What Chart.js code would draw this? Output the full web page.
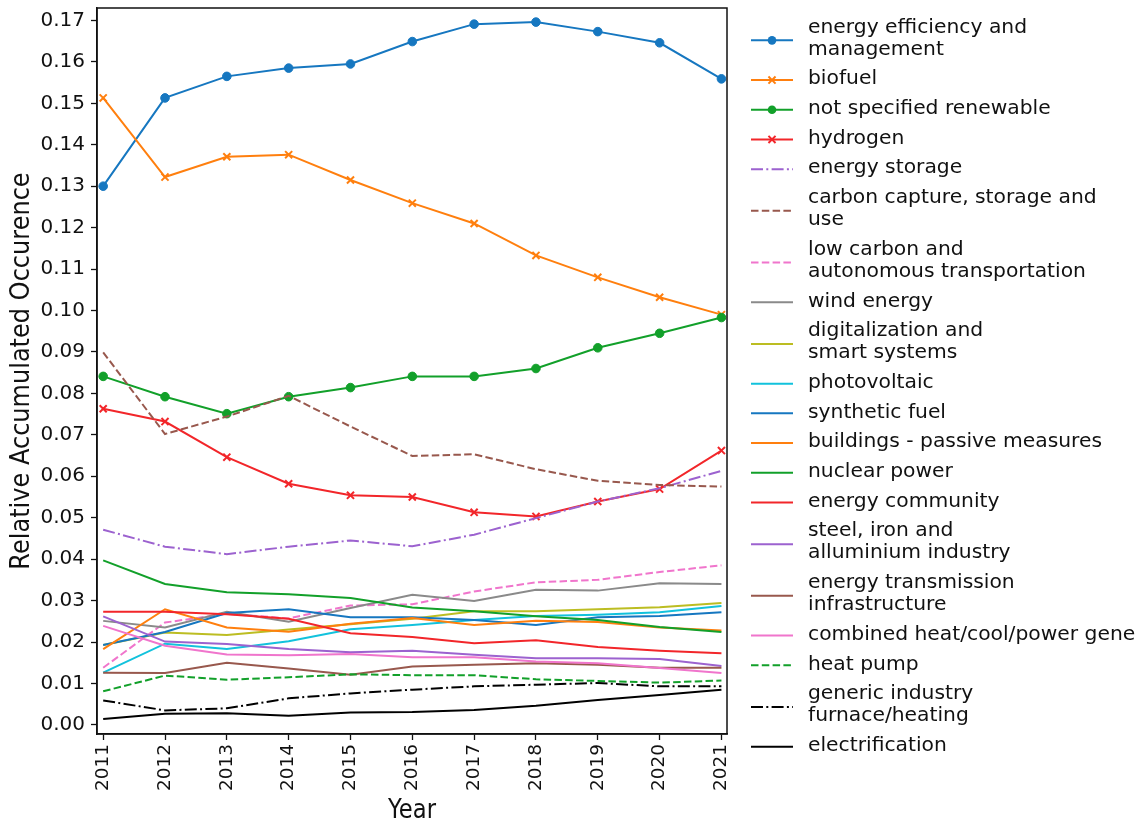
<!DOCTYPE html>
<html>
<head>
<meta charset="utf-8">
<script src="https://cdn.jsdelivr.net/npm/chart.js@4.4.1/dist/chart.umd.min.js"></script>
<style>
  html, body { margin: 0; padding: 0; background: #ffffff; }
  #wrap { width: 1137px; height: 825px; position: relative; overflow: hidden; }
</style>
</head>
<body>
<div id="wrap"><canvas id="chart" width="1137" height="825"></canvas></div>
<script>
// ---- data ----
const years = [2011, 2012, 2013, 2014, 2015, 2016, 2017, 2018, 2019, 2020, 2021];
const yTickValues = [0.00, 0.01, 0.02, 0.03, 0.04, 0.05, 0.06, 0.07, 0.08, 0.09,
                     0.10, 0.11, 0.12, 0.13, 0.14, 0.15, 0.16, 0.17];

const energyEfficiency   = [0.1300, 0.1513, 0.1565, 0.1585, 0.1595, 0.1649, 0.1691, 0.1696, 0.1673, 0.1646, 0.1559];
const biofuel            = [0.1513, 0.1322, 0.1371, 0.1376, 0.1315, 0.1259, 0.1210, 0.1133, 0.1080, 0.1032, 0.0990];
const notSpecifiedRenew  = [0.0841, 0.0792, 0.0751, 0.0792, 0.0814, 0.0841, 0.0841, 0.0860, 0.0910, 0.0945, 0.0983];
const hydrogen           = [0.0763, 0.0732, 0.0646, 0.0582, 0.0554, 0.0550, 0.0513, 0.0503, 0.0539, 0.0569, 0.0662];
const energyStorage      = [0.0471, 0.0430, 0.0412, 0.0430, 0.0445, 0.0431, 0.0459, 0.0499, 0.0539, 0.0571, 0.0613];
const carbonCapture      = [0.0899, 0.0702, 0.0744, 0.0794, 0.0720, 0.0649, 0.0653, 0.0617, 0.0589, 0.0579, 0.0575];
const lowCarbonTransport = [0.0138, 0.0247, 0.0268, 0.0257, 0.0288, 0.0291, 0.0322, 0.0344, 0.0350, 0.0369, 0.0385];
const windEnergy         = [0.0251, 0.0235, 0.0273, 0.0249, 0.0282, 0.0314, 0.0299, 0.0326, 0.0324, 0.0342, 0.0340];
const digitalization     = [0.0193, 0.0223, 0.0217, 0.0230, 0.0243, 0.0256, 0.0274, 0.0274, 0.0279, 0.0284, 0.0294];
const photovoltaic       = [0.0126, 0.0196, 0.0183, 0.0202, 0.0231, 0.0241, 0.0253, 0.0263, 0.0266, 0.0272, 0.0287];
const syntheticFuel      = [0.0193, 0.0224, 0.0270, 0.0279, 0.0260, 0.0260, 0.0253, 0.0241, 0.0260, 0.0263, 0.0272];
const buildingsPassive   = [0.0183, 0.0279, 0.0235, 0.0225, 0.0244, 0.0258, 0.0241, 0.0251, 0.0248, 0.0235, 0.0228];
const nuclearPower       = [0.0397, 0.0340, 0.0320, 0.0315, 0.0306, 0.0283, 0.0274, 0.0262, 0.0253, 0.0236, 0.0224];
const energyCommunity    = [0.0273, 0.0273, 0.0267, 0.0256, 0.0221, 0.0212, 0.0197, 0.0204, 0.0188, 0.0179, 0.0173];
const steelIndustry      = [0.0262, 0.0201, 0.0195, 0.0183, 0.0175, 0.0179, 0.0169, 0.0161, 0.0161, 0.0159, 0.0142];
const transmission       = [0.0126, 0.0125, 0.0150, 0.0136, 0.0121, 0.0141, 0.0145, 0.0149, 0.0145, 0.0138, 0.0138];
const combinedHeat       = [0.0239, 0.0191, 0.0170, 0.0168, 0.0171, 0.0163, 0.0163, 0.0153, 0.0149, 0.0137, 0.0125];
const heatPump           = [0.0081, 0.0119, 0.0109, 0.0115, 0.0122, 0.0120, 0.0120, 0.0110, 0.0106, 0.0102, 0.0107];
const genericIndustry    = [0.0059, 0.0035, 0.0040, 0.0064, 0.0076, 0.0085, 0.0093, 0.0097, 0.0101, 0.0093, 0.0093];
const electrification    = [0.0014, 0.0027, 0.0028, 0.0022, 0.0030, 0.0031, 0.0036, 0.0046, 0.0060, 0.0072, 0.0085];

// legend text, one array of lines per series
const legendLines = [
  ["energy efficiency and", "management"],
  ["biofuel"],
  ["not specified renewable"],
  ["hydrogen"],
  ["energy storage"],
  ["carbon capture, storage and", "use"],
  ["low carbon and", "autonomous transportation"],
  ["wind energy"],
  ["digitalization and", "smart systems"],
  ["photovoltaic"],
  ["synthetic fuel"],
  ["buildings - passive measures"],
  ["nuclear power"],
  ["energy community"],
  ["steel, iron and", "alluminium industry"],
  ["energy transmission", "infrastructure"],
  ["combined heat/cool/power generation"],
  ["heat pump"],
  ["generic industry", "furnace/heating"],
  ["electrification"]
];

const seriesValues = [
  energyEfficiency, biofuel, notSpecifiedRenew, hydrogen, energyStorage,
  carbonCapture, lowCarbonTransport, windEnergy, digitalization, photovoltaic,
  syntheticFuel, buildingsPassive, nuclearPower, energyCommunity, steelIndustry,
  transmission, combinedHeat, heatPump, genericIndustry, electrification
];

// ---- styles ----
const C = {
  blue: '#1677c0', orange: '#ff7f0e', green: '#12a02a', red: '#f2262a',
  purple: '#9c62cf', brown: '#98584d', pink: '#f075cc', gray: '#8a8a8a',
  olive: '#bcbd22', cyan: '#12c2dc', black: '#000000'
};
const DASH = [7.5, 3.3];
const DASHDOT = [12, 3.3, 2, 3.3];
const seriesStyles = [
  { color: C.blue,   dash: [],      marker: 'circle' },
  { color: C.orange, dash: [],      marker: 'crossRot' },
  { color: C.green,  dash: [],      marker: 'circle' },
  { color: C.red,    dash: [],      marker: 'crossRot' },
  { color: C.purple, dash: DASHDOT, marker: null },
  { color: C.brown,  dash: DASH,    marker: null },
  { color: C.pink,   dash: DASH,    marker: null },
  { color: C.gray,   dash: [],      marker: null },
  { color: C.olive,  dash: [],      marker: null },
  { color: C.cyan,   dash: [],      marker: null },
  { color: C.blue,   dash: [],      marker: null },
  { color: C.orange, dash: [],      marker: null },
  { color: C.green,  dash: [],      marker: null },
  { color: C.red,    dash: [],      marker: null },
  { color: C.purple, dash: [],      marker: null },
  { color: C.brown,  dash: [],      marker: null },
  { color: C.pink,   dash: [],      marker: null },
  { color: C.green,  dash: DASH,    marker: null },
  { color: C.black,  dash: DASHDOT, marker: null },
  { color: C.black,  dash: [],      marker: null }
];

const LINE_W = 2;
const n = seriesValues.length;
const datasets = seriesValues.map((vals, i) => {
  const st = seriesStyles[i];
  return {
    label: legendLines[i].join(' '),
    data: years.map((yr, k) => ({ x: yr, y: vals[k] })),
    borderColor: st.color,
    backgroundColor: st.color,
    borderWidth: LINE_W,
    borderDash: st.dash,
    tension: 0,
    fill: false,
    pointStyle: st.marker || 'circle',
    pointRadius: st.marker === 'circle' ? 4.3 : (st.marker === 'crossRot' ? 5 : 0),
    pointBorderWidth: st.marker === 'crossRot' ? 2 : 1,
    pointHoverRadius: 0,
    order: n - i        // later series are painted on top
  };
});

// frame around the plotting area
const framePlugin = {
  id: 'frame',
  afterDatasetsDraw(chart) {
    const { ctx, chartArea: a } = chart;
    ctx.save();
    ctx.strokeStyle = '#111';
    ctx.lineWidth = 1.5;
    ctx.strokeRect(a.left, a.top, a.right - a.left, a.bottom - a.top);
    ctx.restore();
  }
};

function drawMarker(ctx, kind, x, y, color) {
  ctx.save();
  ctx.setLineDash([]);
  if (kind === 'circle') {
    ctx.fillStyle = color;
    ctx.beginPath();
    ctx.arc(x, y, 4.3, 0, Math.PI * 2);
    ctx.fill();
  } else if (kind === 'crossRot') {
    const o = 5 * Math.SQRT1_2;
    ctx.strokeStyle = color;
    ctx.lineWidth = 2;
    ctx.beginPath();
    ctx.moveTo(x - o, y - o); ctx.lineTo(x + o, y + o);
    ctx.moveTo(x - o, y + o); ctx.lineTo(x + o, y - o);
    ctx.stroke();
  }
  ctx.restore();
}

// legend at the right of the axes
const sideLegendPlugin = {
  id: 'sideLegend',
  afterDraw(chart) {
    const ctx = chart.ctx;
    ctx.save();
    ctx.font = '20.3px "DejaVu Sans"';
    ctx.textBaseline = 'middle';
    ctx.textAlign = 'left';
    let cursor = 12.5;
    chart.data.datasets.forEach((ds, i) => {
      const lines = legendLines[i];
      const h = lines.length * 22 + 7.7;
      const mid = cursor + h / 2;
      const my = mid + (lines.length > 1 ? 2 : 1);
      ctx.strokeStyle = ds.borderColor;
      ctx.lineWidth = ds.borderWidth;
      ctx.setLineDash(ds.borderDash || []);
      ctx.beginPath();
      ctx.moveTo(751, my);
      ctx.lineTo(793, my);
      ctx.stroke();
      ctx.setLineDash([]);
      const mk = seriesStyles[i].marker;
      if (mk) drawMarker(ctx, mk, 772, my, ds.borderColor);
      ctx.fillStyle = '#111';
      const first = mid - (lines.length - 1) * 11;
      lines.forEach((t, k) => ctx.fillText(t, 808, first + k * 22));
      cursor += h;
    });
    ctx.restore();
  }
};

// axis titles, set in a slightly condensed face
const axisTitlePlugin = {
  id: 'axisTitles',
  afterDraw(chart) {
    const { ctx, chartArea: a } = chart;
    ctx.save();
    ctx.fillStyle = '#111';
    ctx.textAlign = 'center';
    ctx.textBaseline = 'middle';
    ctx.save();
    ctx.font = '26px "DejaVu Sans"';
    ctx.translate((a.left + a.right) / 2, 811);
    ctx.scale(0.87, 1);
    ctx.fillText('Year', 0, 0);
    ctx.restore();
    ctx.save();
    ctx.font = '27px "DejaVu Sans"';
    ctx.translate(22, (a.top + a.bottom) / 2);
    ctx.rotate(-Math.PI / 2);
    ctx.scale(0.89, 1);
    ctx.fillText('Relative Accumulated Occurence', 0, 0);
    ctx.restore();
    ctx.restore();
  }
};

new Chart(document.getElementById('chart'), {
  type: 'line',
  data: { datasets },
  options: {
    responsive: false,
    animation: false,
    devicePixelRatio: 1,
    events: [],
    layout: { padding: { top: 8, right: 410, left: 0, bottom: 0 } },
    plugins: { legend: { display: false }, tooltip: { enabled: false } },
    scales: {
      x: {
        type: 'linear',
        min: 2010.9,
        max: 2021.09,
        afterBuildTicks: s => { s.ticks = years.map(v => ({ value: v })); },
        afterFit: s => { s.height = 91; s.paddingLeft = 0; s.paddingRight = 0; },
        ticks: {
          autoSkip: false,
          minRotation: 90,
          maxRotation: 90,
          padding: 4,
          color: '#111',
          font: { family: 'DejaVu Sans', size: 18.5 },
          callback: v => String(v)
        },
        grid: { drawOnChartArea: false, drawTicks: true, tickLength: 6, color: '#111', tickWidth: 1.3 },
        border: { display: true, color: '#111', width: 1.5 }
      },
      y: {
        type: 'linear',
        min: -0.0022,
        max: 0.1730,
        afterBuildTicks: s => { s.ticks = yTickValues.map(v => ({ value: v })); },
        afterFit: s => { s.width = 97; s.paddingTop = 0; s.paddingBottom = 0; },
        ticks: {
          padding: 6,
          color: '#111',
          font: { family: 'DejaVu Sans', size: 20 },
          callback: v => v.toFixed(2)
        },
        grid: { drawOnChartArea: false, drawTicks: true, tickLength: 6, color: '#111', tickWidth: 1.3 },
        border: { display: true, color: '#111', width: 1.5 }
      }
    }
  },
  plugins: [framePlugin, sideLegendPlugin, axisTitlePlugin]
});
</script>
</body>
</html>
